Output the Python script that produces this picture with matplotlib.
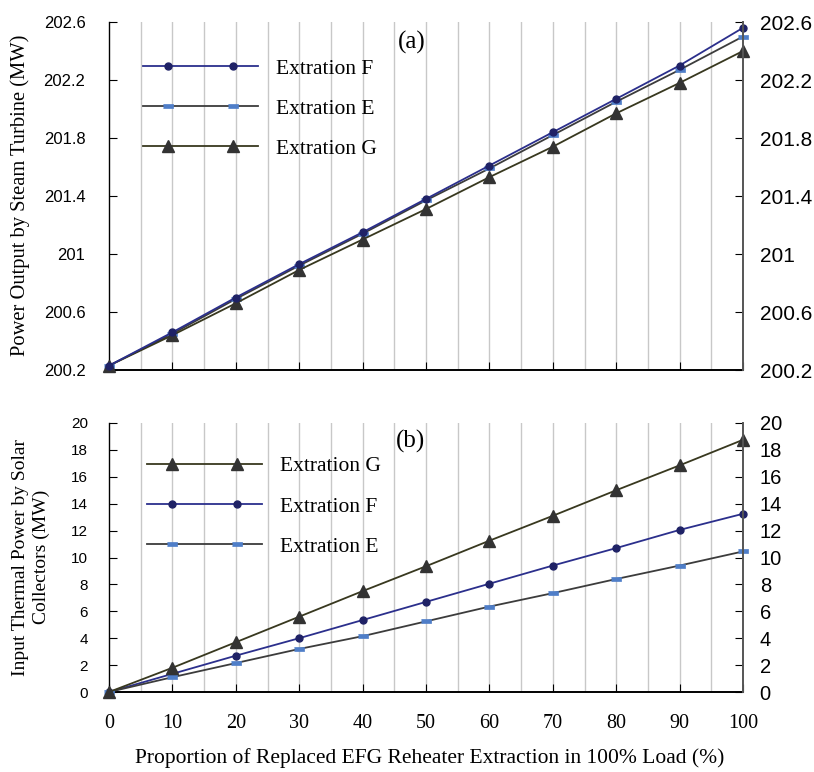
import numpy as np
import matplotlib
matplotlib.use("Agg")
import matplotlib.pyplot as plt
from matplotlib.lines import Line2D
from matplotlib.legend_handler import HandlerLine2D

# data
x = [0, 10, 20, 30, 40, 50, 60, 70, 80, 90, 100]

# (a) power output by steam turbine (MW)
pow_F = [200.23, 200.46, 200.70, 200.93, 201.15, 201.38, 201.61, 201.84, 202.07, 202.30, 202.56]
pow_E = [200.23, 200.45, 200.69, 200.92, 201.14, 201.37, 201.59, 201.82, 202.05, 202.27, 202.50]
pow_G = [200.23, 200.44, 200.66, 200.89, 201.10, 201.31, 201.53, 201.74, 201.97, 202.18, 202.40]

# (b) input thermal power by solar collectors (MW)
sol_G = [0, 1.8, 3.7, 5.6, 7.5, 9.35, 11.25, 13.1, 15.0, 16.85, 18.75]
sol_F = [0, 1.35, 2.7, 4.0, 5.35, 6.7, 8.05, 9.4, 10.7, 12.05, 13.25]
sol_E = [0, 1.1, 2.15, 3.2, 4.15, 5.25, 6.35, 7.35, 8.4, 9.4, 10.45]

ticks_a = [200.2, 200.6, 201.0, 201.4, 201.8, 202.2, 202.6]
labels_a = ["200.2", "200.6", "201", "201.4", "201.8", "202.2", "202.6"]
ticks_b = list(range(0, 21, 2))

xticks = list(range(0, 101, 10))

SANS = "Liberation Sans"
SERIF = "Liberation Serif"

style = {
    "F": dict(color="#2b2f8c", marker="o", ms=5, mfc="#1f2266", mec="#1f2266", lw=1.3),
    "E": dict(color="#3c3c3c", marker=[(-1.6, -0.6), (1.6, -0.6), (1.6, 0.6), (-1.6, 0.6)],
              ms=7, mfc="#4f7ec8", mec="#4f7ec8", mew=0.5, lw=1.3),
    "G": dict(color="#38381f", marker="^", ms=9, mfc="#333333", mec="#333333", lw=1.3),
}


class TwoMarkers(HandlerLine2D):
    # long legend line with two markers set in from the ends
    def create_artists(self, legend, orig_handle, xdescent, ydescent,
                       width, height, fontsize, trans):
        y = (height - ydescent) / 2
        x0 = -xdescent
        xs = x0 + width * np.array([0, 0.22, 0.78, 1.0])
        line = Line2D(xs, [y] * 4)
        self.update_prop(line, orig_handle, legend)
        line.set_markevery([1, 2])
        line.set_transform(trans)
        return [line]


fig = plt.figure(figsize=(8.14, 7.72), dpi=100)
W, H = 814, 772


def make_axes(top, bottom):
    return fig.add_axes([109 / W, 1 - bottom / H, (743 - 109) / W, (bottom - top) / H])


def decorate(ax, ylim, yticks, ylabels, lsize, rsize, lpad, rpad, show_x):
    ax.set_xlim(0, 100)
    ax.set_ylim(*ylim)
    for gx in range(5, 100, 5):
        ax.axvline(gx, color="#c8c8c8", lw=1, zorder=0)
    ax.set_xticks(xticks)
    ax.set_yticks(yticks)
    ax.set_yticklabels(ylabels, fontfamily=SANS)
    ax.tick_params(axis="y", direction="in", length=6, labelsize=lsize, pad=lpad)
    ax.tick_params(axis="x", direction="in", length=6, pad=16)
    if show_x:
        ax.set_xticklabels([str(v) for v in xticks], fontfamily=SERIF, fontsize=14.5)
    else:
        ax.set_xticklabels([])
    ax.spines["top"].set_visible(False)
    ax.spines["right"].set_visible(False)
    ax.spines["bottom"].set_linewidth(1.4)
    ax.spines["left"].set_linewidth(1.0)
    ax2 = ax.twinx()
    ax2.set_ylim(*ylim)
    ax2.set_yticks(yticks)
    ax2.set_yticklabels(ylabels, fontfamily=SANS)
    ax2.tick_params(axis="y", direction="in", length=6, labelsize=rsize, pad=rpad)
    for s in ["top", "left", "bottom"]:
        ax2.spines[s].set_visible(False)
    ax2.spines["right"].set_color("#555555")
    ax2.spines["right"].set_linewidth(1.4)
    return ax2


leg_kw = dict(handler_map={Line2D: TwoMarkers()}, frameon=False, loc="upper left",
              borderpad=0, borderaxespad=0, handlelength=5.35, handletextpad=0.84,
              labelspacing=0.93, prop={"family": SERIF, "size": 15.5})

# panel (a)
ax1 = make_axes(22, 370)
decorate(ax1, (200.2, 202.6), ticks_a, labels_a, 12, 15, 17, 12, False)
lF, = ax1.plot(x, pow_F, **style["F"], clip_on=False, zorder=4)
lE, = ax1.plot(x, pow_E, **style["E"], clip_on=False, zorder=3)
lG, = ax1.plot(x, pow_G, **style["G"], clip_on=False, zorder=3)
ax1.legend([lF, lE, lG], ["Extration F", "Extration E", "Extration G"],
           bbox_to_anchor=(0.0536, 0.895), **leg_kw)
ax1.text(0.477, 0.94, "(a)", transform=ax1.transAxes, ha="center", va="center",
         fontfamily=SERIF, fontsize=18)

# panel (b)
ax3 = make_axes(423, 692)
decorate(ax3, (0, 20), ticks_b, [str(v) for v in ticks_b], 11, 14.5, 15, 12, True)
mG, = ax3.plot(x, sol_G, **style["G"], clip_on=False, zorder=4)
mF, = ax3.plot(x, sol_F, **style["F"], clip_on=False, zorder=3)
mE, = ax3.plot(x, sol_E, **style["E"], clip_on=False, zorder=3)
ax3.legend([mG, mF, mE], ["Extration G", "Extration F", "Extration E"],
           bbox_to_anchor=(0.060, 0.876), **leg_kw)
ax3.text(0.475, 0.93, "(b)", transform=ax3.transAxes, ha="center", va="center",
         fontfamily=SERIF, fontsize=18)

fig.text(20 / W, 1 - 195 / H, "Power Output by Steam Turbine (MW)", rotation=90,
         ha="center", va="center", fontfamily=SERIF, fontsize=14.8)
fig.text(31 / W, 1 - 557 / H, "Input Thermal Power by Solar\nCollectors (MW)", rotation=90,
         ha="center", va="center", ma="center", fontfamily=SERIF, fontsize=14,
         linespacing=1.3)
fig.text(430 / W, 1 - 758 / H, "Proportion of Replaced EFG Reheater Extraction in 100% Load (%)",
         ha="center", va="center", fontfamily=SERIF, fontsize=15.5)

fig.savefig("out.png", dpi=100)
